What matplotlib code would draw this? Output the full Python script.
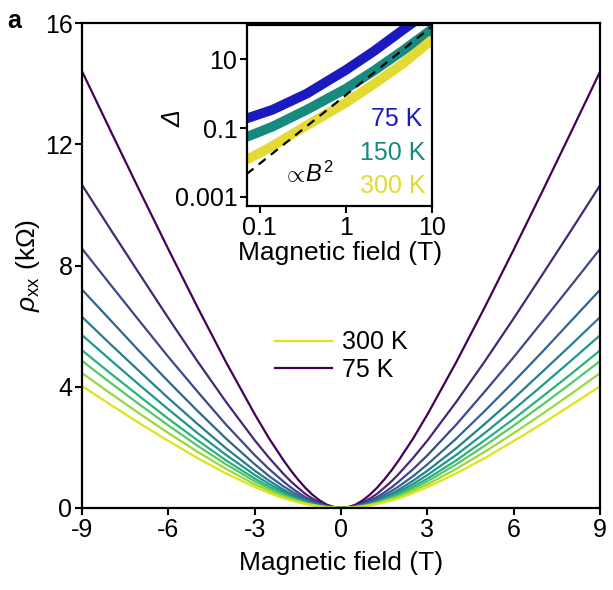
import numpy as np
import matplotlib
matplotlib.use("Agg")
import matplotlib.pyplot as plt
from matplotlib.ticker import FixedLocator, FixedFormatter, NullLocator

plt.rcParams['font.family'] = ['Liberation Sans', 'DejaVu Sans']
plt.rcParams['mathtext.fontset'] = 'custom'
plt.rcParams['mathtext.rm'] = 'Liberation Sans'
plt.rcParams['mathtext.it'] = 'Liberation Sans:italic'
plt.rcParams['axes.unicode_minus'] = False

# main panel: rho_xx (kOhm) vs field, positive side (curves are symmetric)
field = [0, 0.25, 0.5, 0.75, 1, 1.25, 1.5, 1.75, 2, 2.5, 3, 4, 5, 6, 7, 8, 9]
temps = [75, 100, 125, 150, 175, 200, 225, 250, 275, 300]
rho_75 = [0, 0.03, 0.11, 0.25, 0.44, 0.67, 0.94, 1.24, 1.57, 2.29, 3.09, 4.81, 6.64, 8.53, 10.46, 12.42, 14.40]
rho_100 = [0, 0.02, 0.08, 0.18, 0.31, 0.47, 0.67, 0.88, 1.12, 1.65, 2.23, 3.50, 4.85, 6.26, 7.71, 9.17, 10.65]
rho_125 = [0, 0.02, 0.06, 0.14, 0.24, 0.36, 0.51, 0.68, 0.87, 1.28, 1.74, 2.75, 3.85, 4.98, 6.16, 7.35, 8.55]
rho_150 = [0, 0.01, 0.05, 0.11, 0.19, 0.30, 0.42, 0.56, 0.71, 1.05, 1.44, 2.29, 3.21, 4.17, 5.16, 6.18, 7.20]
rho_175 = [0, 0.01, 0.04, 0.09, 0.16, 0.25, 0.35, 0.47, 0.60, 0.90, 1.23, 1.97, 2.78, 3.62, 4.50, 5.39, 6.30]
rho_200 = [0, 0.01, 0.04, 0.08, 0.14, 0.22, 0.31, 0.41, 0.53, 0.79, 1.09, 1.75, 2.48, 3.25, 4.05, 4.87, 5.70]
rho_225 = [0, 0.01, 0.03, 0.07, 0.12, 0.19, 0.27, 0.37, 0.47, 0.70, 0.97, 1.57, 2.24, 2.94, 3.68, 4.43, 5.20]
rho_250 = [0, 0.01, 0.03, 0.06, 0.11, 0.17, 0.25, 0.33, 0.42, 0.64, 0.88, 1.44, 2.06, 2.72, 3.41, 4.12, 4.85]
rho_275 = [0, 0.01, 0.03, 0.06, 0.10, 0.15, 0.22, 0.29, 0.37, 0.57, 0.78, 1.29, 1.86, 2.47, 3.11, 3.77, 4.45]
rho_300 = [0, 0.01, 0.02, 0.05, 0.09, 0.13, 0.19, 0.25, 0.32, 0.49, 0.69, 1.14, 1.65, 2.21, 2.79, 3.40, 4.02]
rho_all = [rho_75, rho_100, rho_125, rho_150, rho_175, rho_200, rho_225, rho_250, rho_275, rho_300]

# inset: Delta vs field (log-log)
field_in = [0.07, 0.14, 0.35, 1, 2.1, 4.6, 10]
delta_75 = [0.19, 0.34, 1.0, 4.9, 17, 72, 290]
delta_150 = [0.055, 0.11, 0.34, 1.4, 4.6, 18, 75]
delta_300 = [0.012, 0.03, 0.12, 0.55, 1.9, 7.5, 37]
field_fit = [0.07, 10]
delta_fit = [0.0046, 90]

fig = plt.figure(figsize=(6.13, 5.90), dpi=100)
ax = fig.add_axes([0.134, 0.139, 0.845, 0.822])

cols = plt.cm.viridis(np.linspace(0, 0.95, len(temps)))
B = np.concatenate([-np.array(field[::-1]), np.array(field[1:])])
for i, t in enumerate(temps):
    r = rho_all[i]
    y = np.concatenate([np.array(r[::-1]), np.array(r[1:])])
    lab = None
    if t == 75 or t == 300:
        lab = f"{t} K"
    ax.plot(B, y, color=cols[i], lw=1.6, label=lab)

ax.set_xlim(-9, 9)
ax.set_ylim(0, 16)
ax.set_xticks([-9, -6, -3, 0, 3, 6, 9])
ax.set_yticks([0, 4, 8, 12, 16])
ax.tick_params(direction='out', length=5, width=1.5, labelsize=18, pad=2, top=False, right=False)
for s in ax.spines.values():
    s.set_linewidth(1.6)
ax.set_xlabel("Magnetic field (T)", fontsize=19, labelpad=7)
ax.set_ylabel(r"$\rho_{\rm xx}$ (kΩ)", fontsize=19)
ax.yaxis.set_label_coords(-0.078, 0.5)

h, l = ax.get_legend_handles_labels()
ax.legend(h[::-1], l[::-1], loc='center left', bbox_to_anchor=(0.372, 0.313),
          frameon=False, fontsize=18, handlelength=2.3, handletextpad=0.4,
          borderpad=0, borderaxespad=0, labelspacing=0.15)

fig.text(0.012, 0.985, "a", fontsize=18, fontweight='bold', va='top')

# inset
ins = fig.add_axes([0.403, 0.651, 0.302, 0.307])
ins.plot(field_in, delta_75, color='#1a1ac0', lw=7, solid_capstyle='butt')
ins.plot(field_in, delta_150, color='#178a80', lw=7, solid_capstyle='butt')
ins.plot(field_in, delta_300, color='#e3da35', lw=7, solid_capstyle='butt')
ins.plot(field_fit, delta_fit, color='black', lw=1.6, ls=(0, (4, 3)))
ins.set_xscale('log')
ins.set_yscale('log')
ins.set_xlim(0.071, 10)
ins.set_ylim(5.5e-4, 100)
ins.xaxis.set_major_locator(FixedLocator([0.1, 1, 10]))
ins.xaxis.set_major_formatter(FixedFormatter(["0.1", "1", "10"]))
ins.yaxis.set_major_locator(FixedLocator([0.001, 0.1, 10]))
ins.yaxis.set_major_formatter(FixedFormatter(["0.001", "0.1", "10"]))
ins.xaxis.set_minor_locator(NullLocator())
ins.yaxis.set_minor_locator(NullLocator())
ins.tick_params(direction='out', length=5, width=1.5, labelsize=18, pad=2, top=False, right=False)
for s in ins.spines.values():
    s.set_linewidth(1.6)
ins.set_xlabel("Magnetic field (T)", fontsize=19, labelpad=1)
ins.set_ylabel("Δ", fontsize=18, style='italic')
ins.yaxis.set_label_coords(-0.335, 0.48)

ins.text(0.945, 0.48, "75 K", color='#1a1ac0', fontsize=18, ha='right', va='center', transform=ins.transAxes)
ins.text(0.965, 0.29, "150 K", color='#178a80', fontsize=18, ha='right', va='center', transform=ins.transAxes)
ins.text(0.965, 0.11, "300 K", color='#e3da35', fontsize=18, ha='right', va='center', transform=ins.transAxes)
ins.text(0.33, 0.18, r"$\propto\!B^2$", fontsize=17, ha='center', va='center', transform=ins.transAxes)

fig.savefig("out.png", dpi=100)
